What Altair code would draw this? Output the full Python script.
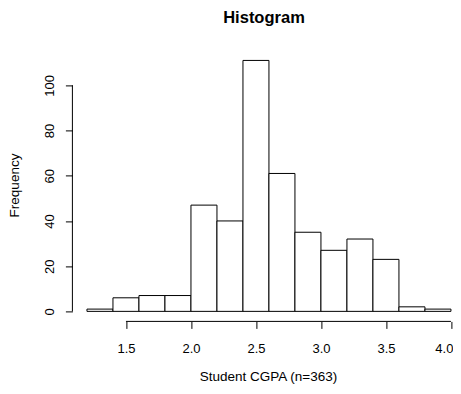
import altair as alt
import pandas as pd

# Histogram bins (CGPA) and counts
BIN_START = [1.2, 1.4, 1.6, 1.8, 2.0, 2.2, 2.4, 2.6, 2.8, 3.0, 3.2, 3.4, 3.6, 3.8]
BIN_END = [1.4, 1.6, 1.8, 2.0, 2.2, 2.4, 2.6, 2.8, 3.0, 3.2, 3.4, 3.6, 3.8, 4.0]
COUNTS = [1, 6, 7, 7, 47, 40, 111, 61, 35, 27, 32, 23, 2, 1]

X_TICKS = [1.5, 2.0, 2.5, 3.0, 3.5, 4.0]
Y_TICKS = [0, 20, 40, 60, 80, 100]

TITLE = "Histogram"
X_TITLE = "Student CGPA (n=363)"
Y_TITLE = "Frequency"

X_DOMAIN = [1.088, 4.0158]
Y_DOMAIN = [-4.44, 115.44]

FONT = "Liberation Sans"
W, H = 380.6, 271

bars = pd.DataFrame({"start": BIN_START, "end": BIN_END, "count": COUNTS})
xaxis_line = pd.DataFrame({"x": [min(X_TICKS)], "x2": [max(X_TICKS)], "y": [Y_DOMAIN[0]]})
yaxis_line = pd.DataFrame({"x": [X_DOMAIN[0]], "y": [min(Y_TICKS)], "y2": [max(Y_TICKS)]})

xscale = alt.Scale(domain=X_DOMAIN, nice=False, zero=False)
yscale = alt.Scale(domain=Y_DOMAIN, nice=False, zero=False)

xaxis = alt.Axis(
    values=X_TICKS, format=".1f", domain=False, grid=False,
    ticks=True, tickSize=7, tickColor="black", tickWidth=1,
    labelFont=FONT, labelFontSize=13, labelColor="black", labelPadding=14,
    labelFlush=5, labelFlushOffset=2, labelOverlap=False, labelBound=False,
    title=X_TITLE, titleFont=FONT, titleFontSize=13.5, titleFontWeight="normal",
    titleColor="black", titleX=195.6, titleY=59.5, titleAlign="center",
    titleBaseline="alphabetic", titleAnchor="start",
)
yaxis = alt.Axis(
    values=Y_TICKS, format="d", domain=False, grid=False,
    ticks=True, tickSize=7, tickColor="black", tickWidth=1,
    labelFont=FONT, labelFontSize=13, labelColor="black", labelPadding=9,
    labelAngle=270, labelAlign="center", labelBaseline="bottom",
    labelFlush=False, labelOverlap=False,
    title=Y_TITLE, titleFont=FONT, titleFontSize=13.5, titleFontWeight="normal",
    titleColor="black", titleX=-54, titleY=134.6, titleAngle=270,
    titleAlign="center", titleBaseline="alphabetic", titleAnchor="start",
)

hist = alt.Chart(bars).mark_rect(fill="white", stroke="black", strokeWidth=1).encode(
    x=alt.X("start:Q", scale=xscale, axis=xaxis),
    x2="end:Q",
    y=alt.Y("count:Q", scale=yscale, axis=yaxis),
    y2=alt.Y2(datum=0),
)

xline = alt.Chart(xaxis_line).mark_rule(color="black", strokeWidth=1).encode(
    x=alt.X("x:Q", scale=xscale, axis=xaxis), x2="x2:Q",
    y=alt.Y("y:Q", scale=yscale, axis=yaxis),
)
yline = alt.Chart(yaxis_line).mark_rule(color="black", strokeWidth=1).encode(
    x=alt.X("x:Q", scale=xscale, axis=xaxis),
    y=alt.Y("y:Q", scale=yscale, axis=yaxis), y2="y2:Q",
)

chart = (
    alt.layer(hist, xline, yline)
    .properties(
        width=W, height=H,
        view=alt.ViewBackground(strokeWidth=0, strokeOpacity=0, fill="white"),
        title=alt.TitleParams(
            TITLE, font=FONT, fontSize=16.5, fontWeight="bold", color="black",
            anchor="middle", dx=1.3, baseline="alphabetic", offset=11,
        ),
        autosize=alt.AutoSizeParams(type="none"),
        padding={"left": 64.4, "top": 42.4, "right": 0, "bottom": 63.6},
    )
    .configure_view(stroke="transparent", strokeWidth=0, strokeOpacity=0, fill="white")
    .configure(background="white")
)

chart.save("out.html", embed_options={"renderer": "svg", "actions": False})
